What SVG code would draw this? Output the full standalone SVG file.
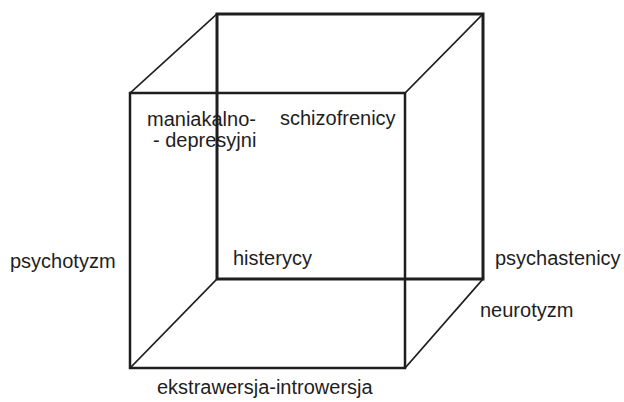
<svg xmlns="http://www.w3.org/2000/svg" width="624" height="402" viewBox="0 0 624 402">
<style>
.t{font-family:"Liberation Sans",Arial,sans-serif;font-size:20px;fill:#1e1e1e}
.e{fill:none;stroke:#1e1e1e;stroke-linecap:square}
</style>
<rect width="624" height="402" fill="#fff"/>
<g id="connectors">
<rect class="e" x="217" y="14" width="266" height="265" stroke-width="3"/>
<rect class="e" x="130" y="93" width="275" height="275" stroke-width="2.5"/>
<line class="e" x1="130" y1="93" x2="217" y2="14" stroke-width="1.6"/>
<line class="e" x1="405" y1="93" x2="483" y2="14" stroke-width="1.6"/>
<line class="e" x1="130" y1="368" x2="217" y2="279" stroke-width="1.6"/>
<line class="e" x1="405" y1="368" x2="483" y2="279" stroke-width="1.6"/>
</g>
<g id="maniakalno"><text class="t" x="147" y="126">maniakalno-</text><text class="t" x="153" y="147">- depresyjni</text></g>
<g id="schizofrenicy"><text class="t" x="280" y="125">schizofrenicy</text></g>
<g id="psychotyzm"><text class="t" x="10" y="268">psychotyzm</text></g>
<g id="histerycy"><text class="t" x="233" y="265">histerycy</text></g>
<g id="psychastenicy"><text class="t" x="495" y="265">psychastenicy</text></g>
<g id="neurotyzm"><text class="t" x="480" y="317">neurotyzm</text></g>
<g id="ekstrawersja"><text class="t" x="157" y="394">ekstrawersja-introwersja</text></g>
</svg>
